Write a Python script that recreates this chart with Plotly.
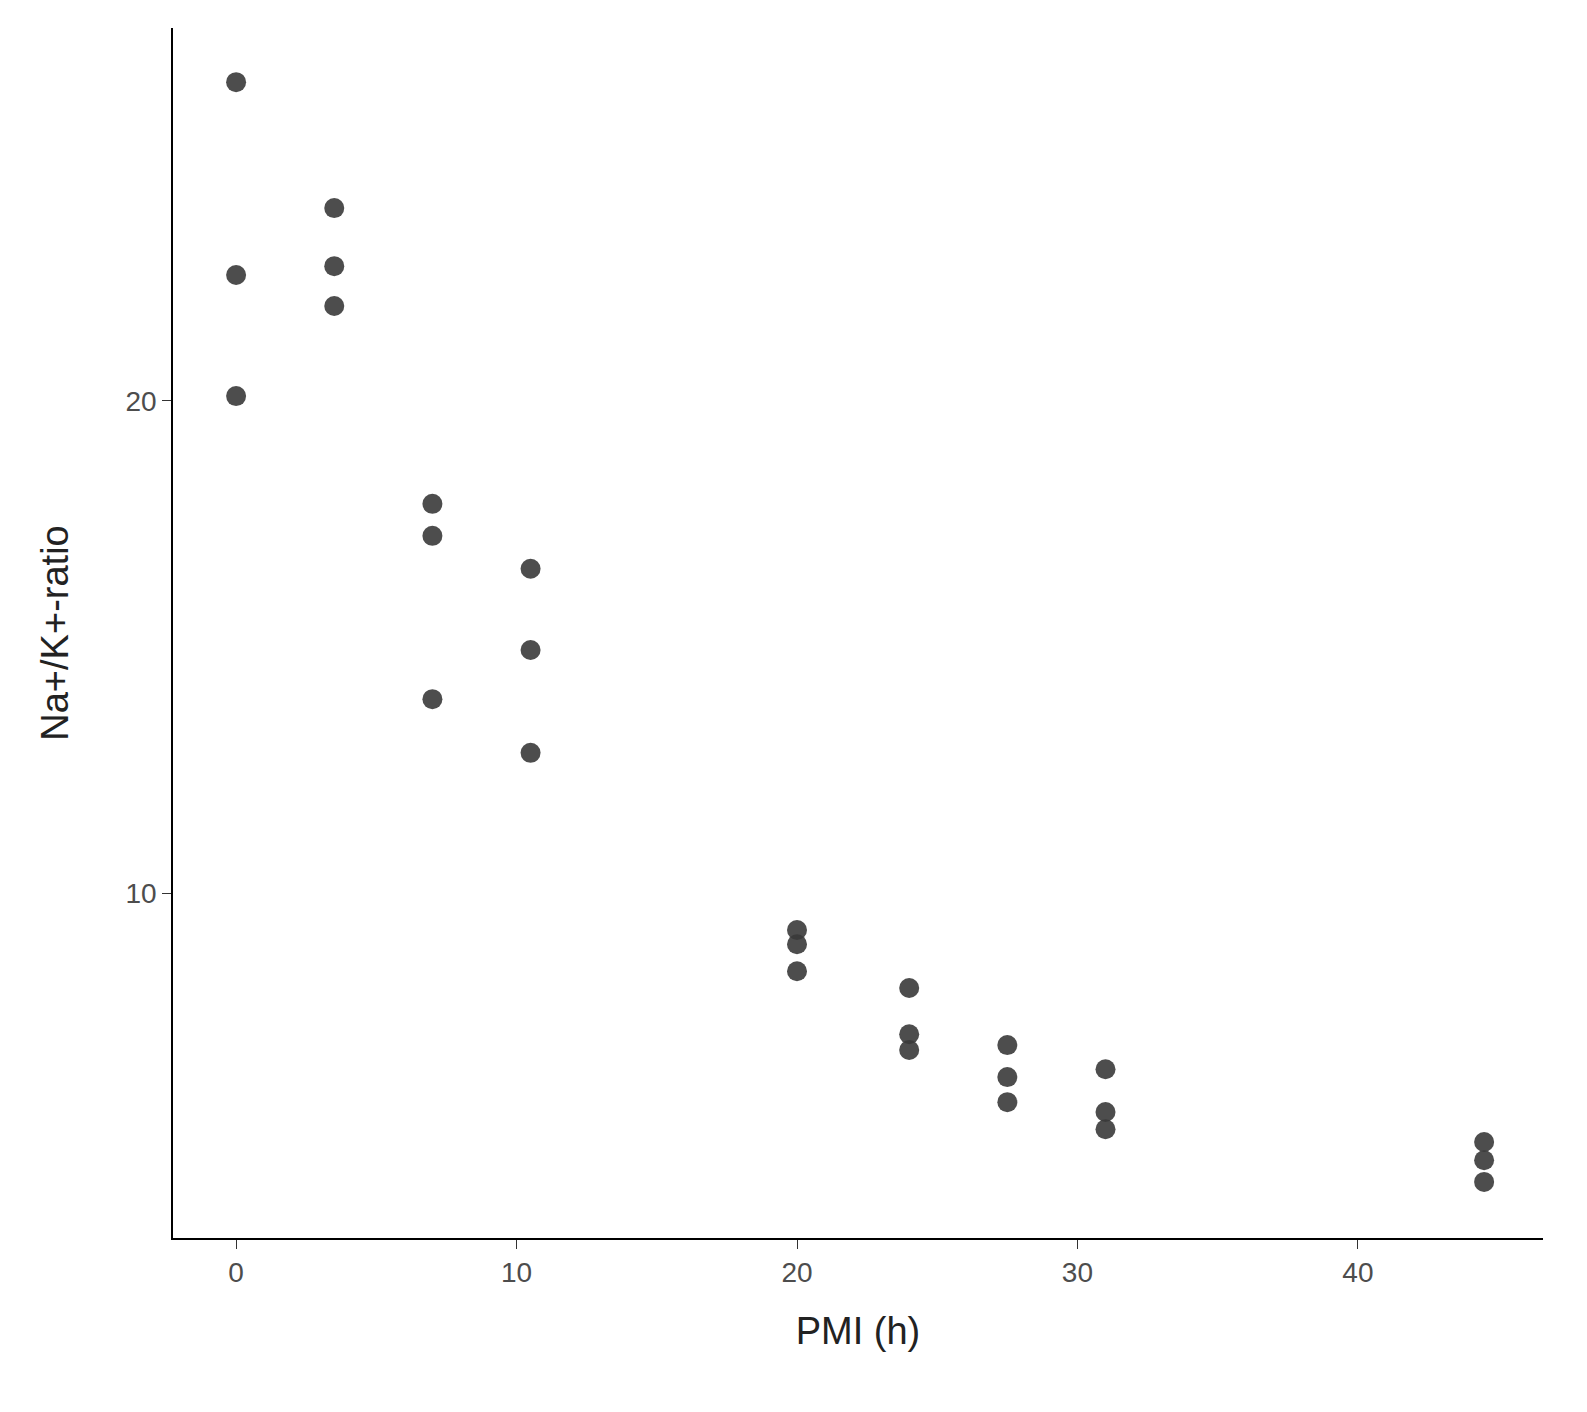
import plotly.graph_objects as go

pmi = [0, 0, 0, 3.5, 3.5, 3.5, 7, 7, 7, 10.5, 10.5, 10.5,
       20, 20, 20, 24, 24, 24, 27.5, 27.5, 27.5, 31, 31, 31, 44.5, 44.5, 44.5]
ratio = [26.48, 22.56, 20.1, 23.92, 22.74, 21.93, 17.91, 17.26, 13.94,
         16.59, 14.94, 12.85, 9.25, 8.96, 8.41, 8.07, 7.13, 6.81,
         6.91, 6.26, 5.75, 6.42, 5.55, 5.20, 4.94, 4.57, 4.13]
x_ticks = [0, 10, 20, 30, 40]
y_ticks = [10, 20]

fig = go.Figure()
fig.add_trace(go.Scatter(
    x=pmi, y=ratio, mode="markers",
    marker=dict(color="#3a3a3a", size=20, opacity=0.9),
    showlegend=False,
))

axis_style = dict(
    showline=True, linecolor="black", linewidth=1.5, showgrid=False, zeroline=False,
    ticks="outside", ticklen=9, tickcolor="#333333",
    tickfont=dict(family="Liberation Sans, Arial", size=28, color="#4d4d4d"),
)
fig.update_xaxes(range=[-2.25, 46.6], tickvals=x_ticks, title_text="PMI (h)",
                 title_font=dict(family="Liberation Sans, Arial", size=38, color="#222"),
                 title_standoff=30, **axis_style)
fig.update_yaxes(range=[2.99, 27.58], tickvals=y_ticks, title_text="Na+/K+-ratio",
                 title_font=dict(family="Liberation Sans, Arial", size=38, color="#222"),
                 title_standoff=45, **axis_style)

fig.update_layout(
    width=1587, height=1412,
    plot_bgcolor="white", paper_bgcolor="white",
    margin=dict(l=165, r=52, t=20, b=182),
)
fig.write_html("out.html")
